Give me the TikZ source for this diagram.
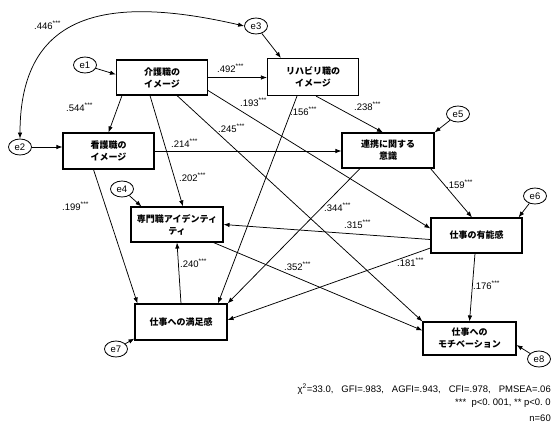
\documentclass[tikz,border=0pt]{standalone}
\usepackage{fontspec}
\setmainfont{Liberation Sans}
\newfontfamily\jp{Noto Sans CJK JP}
\usetikzlibrary{arrows.meta,calc,shapes.geometric}
\newcommand\sig{\textsuperscript{***}}
\newcommand\gap{\hspace{8pt}}
\begin{document}
\begin{tikzpicture}[x=1pt,y=-1pt,
  box/.style={draw,line width=1.1pt,minimum width=91pt,minimum height=35pt,inner sep=1pt,
    align=center,font=\jp\bfseries\fontsize{9}{12}\selectfont},
  err/.style={draw,ellipse,line width=0.8pt,minimum width=23pt,minimum height=16pt,inner sep=0pt,
    font=\fontsize{9.5}{10}\selectfont},
  conn/.style={line width=0.75pt,-{Latex[length=6pt,width=4.5pt]}},
  lab/.style={anchor=west,inner sep=0pt,font=\fontsize{9.5}{10}\selectfont},
  note/.style={anchor=east,inner sep=0pt,font=\fontsize{9.5}{10}\selectfont}]
\clip (0,0) rectangle (552,432);
\fill[white] (0,0) rectangle (552,432);
% boxes
\node[box] (A) at (162,77.5) {介護職の\\イメージ};
\node[box,minimum height=37pt] (B) at (313,77) {リハビリ職の\\イメージ};
\node[box,minimum height=36pt] (C) at (108.5,151) {看護職の\\イメージ};
\node[box,minimum width=92pt] (D) at (388,150.5) {連携に関する\\意識};
\node[box,minimum width=92pt] (E) at (177,224.5) {専門職アイデンティ\\ティ};
\node[box] (F) at (476.5,235.5) {仕事の有能感};
\node[box,minimum width=92pt,minimum height=36pt] (G) at (181,322) {仕事への満足感};
\node[box,minimum width=93pt,minimum height=33pt] (H) at (469.5,338.5) {仕事への\\モチベーション};
% error terms
\node[err] (e1) at (85,65) {e1};
\node[err] (e2) at (20,147) {e2};
\node[err] (e3) at (256,26) {e3};
\node[err] (e4) at (122,189) {e4};
\node[err] (e5) at (458,114) {e5};
\node[err] (e6) at (535,196) {e6};
\node[err] (e7) at (116,349) {e7};
\node[err] (e8) at (539,359) {e8};
% error arrows
\draw[conn] (e1) -- ($(A.west)+(0,-3)$);
\draw[conn] (e2.east) -- (e2.east -| C.west);
\draw[conn] (e3) -- ($(B.north west)+(14,0)$);
\draw[conn] (e4) -- ($(E.north west)+(11,0)$);
\draw[conn] (e5) -- (D.north east);
\draw[conn] (e6) -- ($(F.north east)+(-4,0)$);
\draw[conn] (e7) -- ($(G.south west)+(0,-2)$);
\draw[conn] (e8) -- ($(H.east)+(0,6.5)$);
\draw[line width=0.75pt,{Latex[length=6pt,width=4.5pt]}-{Latex[length=6pt,width=4.5pt]}]
  (e2.north) .. controls (20,10) and (110,-5) .. (e3.west);
% paths
\draw[conn] (A.east) -- (A.east -| B.west);
\draw[conn] ($(A.south)+(-40,0)$) -- (C.north);
\draw[conn] ($(A.south)+(-12,0)$) -- ($(E.north)+(6,0)$);
\draw[conn] ($(A.east)+(0,13)$) -- ($(F.west)+(0,-7)$);
\draw[conn] ($(A.south)+(15,0)$) -- (H.north west);
\draw[conn] (C.east) -- (C.east -| D.west);
\draw[conn] ($(C.south)+(-15,0)$) -- ($(G.north west)+(3,0)$);
\draw[conn] ($(B.south)+(3,0)$) -- ($(D.north)+(-5,0)$);
\draw[conn] ($(B.south)+(-16,0)$) -- ($(G.north)+(37,0)$);
\draw[conn] ($(D.south)+(-28,0)$) -- (G.north east);
\draw[conn] ($(D.south east)+(-4,0)$) -- ($(F.north)+(-4.5,0)$);
\draw[conn] ($(F.west)+(0,4)$) -- (E.east);
\draw[conn] ($(F.west)+(0,12.5)$) -- ($(G.east)+(0,-2)$);
\draw[conn] ($(F.south)+(-1.5,0)$) -- (H.north);
\draw[conn] ($(E.south east)+(-10,0)$) -- ($(H.west)+(0,-8)$);
\draw[conn] (G.north) -- (E.south);
% labels
\node[lab] (l1) at (34,25) {.446\sig};
\node[lab] (l2) at (217,68) {.492\sig};
\node[lab] (l3) at (66,107) {.544\sig};
\node[lab] (l4) at (240,102) {.193\sig};
\node[lab] (l5) at (218,128) {.245\sig};
\node[lab] (l6) at (171,143) {.214\sig};
\node[lab] (l7) at (290,111) {.156\sig};
\node[lab] (l8) at (354,106) {.238\sig};
\node[lab] (l9) at (179,177) {.202\sig};
\node[lab] (l10) at (62,206) {.199\sig};
\node[lab] (l11) at (180,263) {.240\sig};
\node[lab] (l12) at (324,207) {.344\sig};
\node[lab] (l13) at (344,224) {.315\sig};
\node[lab] (l14) at (446,184) {.159\sig};
\node[lab] (l15) at (284,266) {.352\sig};
\node[lab] (l16) at (397,262) {.181\sig};
\node[lab] (l17) at (473,285) {.176\sig};
% notes
\node[note] (n1) at (551,389) {χ\textsuperscript{2}=33.0,\gap GFI=.983,\gap AGFI=.943,\gap CFI=.978,\gap PMSEA=.06};
\node[note] (n2) at (551,403) {***\ \ p<0.\ 001,\ ** p<0.\ 0};
\node[note] (n3) at (551,418) {n=60};
\end{tikzpicture}
\end{document}
